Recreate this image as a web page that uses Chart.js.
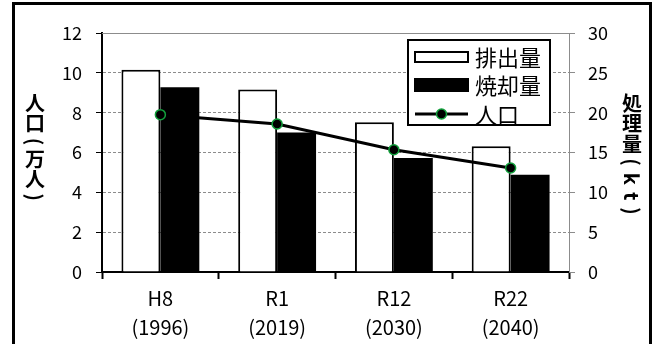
<!DOCTYPE html>
<html>
<head>
    <meta charset="utf-8">
    <title>ごみ処理量と人口の推移</title>
    <script src="https://cdn.jsdelivr.net/npm/chart.js"></script>
    <style>
        body {
            margin: 0;
            background: #fff;
        }
        #wrap {
            width: 660px;
            height: 344px;
        }
    </style>
</head>
<body>
    <div id="wrap">
        <canvas id="wasteChart" width="660" height="344"></canvas>
    </div>

    <script>
        // 年度ラベル（和暦 + 西暦）
        const categories = [["H8", "(1996)"], ["R1", "(2019)"], ["R12", "(2030)"], ["R22", "(2040)"]];
        // 処理量 (kt)
        const haishutsu = [25.4, 22.9, 18.8, 15.8];   // 排出量
        const shoukyaku = [23.2, 17.5, 14.3, 12.2];   // 焼却量
        // 人口 (万人)
        const jinkou = [7.9, 7.43, 6.14, 5.22];

        const leftTitle = "人口(万人)";
        const rightTitle = "処理量(kt)";

        const FONT = "'Noto Sans CJK JP', 'Noto Sans', sans-serif";
        const GRID_GRAY = "#8c8c8c";

        // 縦書きの軸タイトル（漢字は正立、括弧と英字は90度回転）
        function drawVertical(ctx, text, x, yTop, size) {
            ctx.save();
            ctx.font = "bold " + size + "px " + FONT;
            ctx.fillStyle = "#000";
            ctx.textAlign = "center";
            ctx.textBaseline = "middle";
            let y = yTop;
            for (const ch of text) {
                const upright = /[\u3000-\u9fff]/.test(ch);
                if (upright) {
                    const step = size * 1.03;
                    ctx.fillText(ch, x, y + step / 2);
                    y += step;
                } else {
                    const step = ctx.measureText(ch).width + 7;
                    ctx.save();
                    ctx.translate(x, y + step / 2);
                    ctx.rotate(Math.PI / 2);
                    ctx.fillText(ch, 0, 0);
                    ctx.restore();
                    y += step;
                }
            }
            ctx.restore();
        }

        const decorations = {
            id: "decorations",
            beforeDatasetsDraw(chart) {
                const ctx = chart.ctx;
                const a = chart.chartArea;
                // plot area top edge
                ctx.save();
                ctx.strokeStyle = GRID_GRAY;
                ctx.lineWidth = 1;
                ctx.beginPath();
                ctx.moveTo(a.left, Math.round(a.top) + 0.5);
                ctx.lineTo(a.right, Math.round(a.top) + 0.5);
                ctx.stroke();
                ctx.restore();
            },
            afterDraw(chart) {
                const ctx = chart.ctx;
                const sets = chart.data.datasets;

                // legend box
                const bx = 408, by = 40, bw = 142, bh = 85;
                ctx.save();
                ctx.fillStyle = "#fff";
                ctx.fillRect(bx, by, bw, bh);
                ctx.strokeStyle = "#000";
                ctx.lineWidth = 2;
                ctx.strokeRect(bx, by, bw, bh);

                const rows = [57, 85, 114];
                const sx = 415, sw = 53;
                ctx.font = "22px " + FONT;
                ctx.textAlign = "left";
                ctx.textBaseline = "middle";
                sets.forEach((ds, i) => {
                    const cy = rows[i];
                    if (ds.type === "line") {
                        ctx.strokeStyle = ds.borderColor;
                        ctx.lineWidth = ds.borderWidth;
                        ctx.beginPath();
                        ctx.moveTo(sx, cy);
                        ctx.lineTo(sx + sw, cy);
                        ctx.stroke();
                        ctx.beginPath();
                        ctx.arc(sx + sw / 2, cy, ds.pointRadius, 0, Math.PI * 2);
                        ctx.fillStyle = ds.pointBackgroundColor;
                        ctx.fill();
                        ctx.lineWidth = ds.pointBorderWidth;
                        ctx.strokeStyle = ds.pointBorderColor;
                        ctx.stroke();
                    } else {
                        const h = i === 0 ? 10 : 12;
                        ctx.fillStyle = ds.backgroundColor;
                        ctx.fillRect(sx, cy - h / 2, sw, h);
                        ctx.strokeStyle = "#000";
                        ctx.lineWidth = 2;
                        ctx.strokeRect(sx, cy - h / 2, sw, h);
                    }
                    ctx.fillStyle = "#000";
                    ctx.fillText(ds.label, 475, cy + 1);
                });
                ctx.restore();

                // axis titles
                drawVertical(ctx, leftTitle, 35, 93, 20);
                drawVertical(ctx, rightTitle, 632, 93, 20);

                // outer frame
                ctx.save();
                ctx.strokeStyle = "#000";
                ctx.lineWidth = 3;
                ctx.strokeRect(13.5, 3.5, 637, 400);
                ctx.restore();
            }
        };

        const ctx = document.getElementById("wasteChart").getContext("2d");
        new Chart(ctx, {
            data: {
                labels: categories,
                datasets: [
                    {
                        type: "bar",
                        label: "排出量",
                        data: haishutsu,
                        yAxisID: "y2",
                        backgroundColor: "#ffffff",
                        borderColor: "#000000",
                        borderWidth: 2,
                        categoryPercentage: 0.667,
                        barPercentage: 1.0,
                        order: 2
                    },
                    {
                        type: "bar",
                        label: "焼却量",
                        data: shoukyaku,
                        yAxisID: "y2",
                        backgroundColor: "#000000",
                        borderColor: "#000000",
                        borderWidth: 0,
                        categoryPercentage: 0.667,
                        barPercentage: 1.0,
                        order: 2
                    },
                    {
                        type: "line",
                        label: "人口",
                        data: jinkou,
                        yAxisID: "y",
                        borderColor: "#000000",
                        borderWidth: 3,
                        pointRadius: 5,
                        pointBackgroundColor: "#000000",
                        pointBorderColor: "#12a03c",
                        pointBorderWidth: 1.5,
                        tension: 0,
                        order: 0
                    }
                ]
            },
            options: {
                responsive: false,
                animation: false,
                devicePixelRatio: 1,
                layout: { padding: { top: 33, left: 0, right: 0, bottom: 0 } },
                plugins: {
                    legend: { display: false },
                    tooltip: { enabled: false }
                },
                scales: {
                    x: {
                        offset: true,
                        afterFit: s => { s.height = 72; },
                        grid: {
                            offset: true,
                            drawOnChartArea: false,
                            drawTicks: true,
                            tickLength: 7,
                            tickColor: "#000",
                            tickWidth: 2
                        },
                        border: { color: "#000", width: 2 },
                        ticks: {
                            color: "#000",
                            padding: 5,
                            maxRotation: 0,
                            font: { family: FONT, size: 20, lineHeight: 1.45 }
                        }
                    },
                    y: {
                        position: "left",
                        min: 0,
                        max: 12,
                        afterFit: s => { s.width = 102; },
                        grid: {
                            color: ctx => (ctx.tick.value === 0 || ctx.tick.value === 12) ? "rgba(0,0,0,0)" : GRID_GRAY,
                            lineWidth: 1,
                            tickLength: 6,
                            tickColor: "#000",
                            tickWidth: 1
                        },
                        border: { color: "#000", width: 2, dash: [3, 2] },
                        ticks: {
                            stepSize: 2,
                            color: "#000",
                            padding: 14,
                            font: { family: FONT, size: 18 }
                        }
                    },
                    y2: {
                        position: "right",
                        min: 0,
                        max: 30,
                        afterFit: s => { s.width = 91; },
                        grid: {
                            drawOnChartArea: false,
                            tickLength: 6,
                            tickColor: GRID_GRAY,
                            tickWidth: 1
                        },
                        border: { color: GRID_GRAY, width: 1 },
                        ticks: {
                            stepSize: 5,
                            color: "#000",
                            padding: 13,
                            font: { family: FONT, size: 18 }
                        }
                    }
                }
            },
            plugins: [decorations]
        });
    </script>
</body>
</html>
